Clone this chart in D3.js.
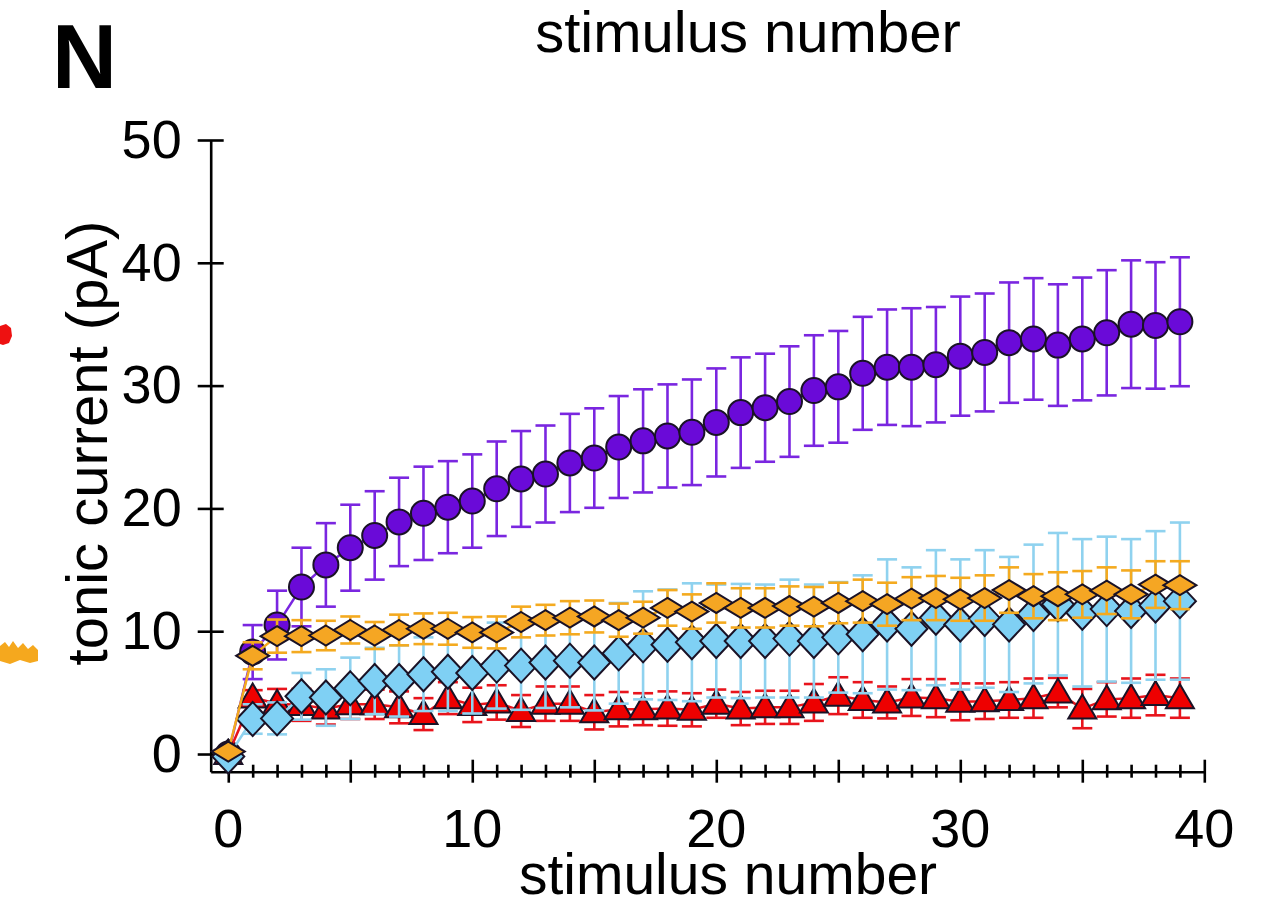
<!DOCTYPE html>
<html>
<head>
<meta charset="utf-8">
<script src="https://cdn.jsdelivr.net/npm/d3@7"></script>
<style>
  body { margin: 0; background: #fff; }
  text { font-family: "Liberation Sans", Arial, sans-serif; fill: #000; }
</style>
</head>
<body>
<svg id="chart"></svg>
<script>
// stimulus numbers 0..39
const stim = d3.range(40);

// mean tonic current (pA) and error, per group
const purpleMean = [0, 8.3, 10.5, 13.6, 15.4, 16.8, 17.8, 18.9, 19.6, 20.1, 20.6, 21.6, 22.4, 22.8, 23.7, 24.1, 25.0, 25.5, 25.9, 26.2,
  27.0, 27.8, 28.2, 28.7, 29.6, 29.9, 31.0, 31.5, 31.5, 31.7, 32.4, 32.7, 33.5, 33.8, 33.3, 33.8, 34.3, 35.0, 34.9, 35.2];
const purpleErr = [0, 2.2, 2.8, 3.2, 3.4, 3.5, 3.6, 3.6, 3.8, 3.75, 3.8, 3.85, 3.9, 3.95, 4.0, 4.05, 4.15, 4.2, 4.2, 4.3,
  4.4, 4.5, 4.4, 4.5, 4.5, 4.55, 4.6, 4.7, 4.8, 4.7, 4.85, 4.8, 4.9, 4.95, 4.95, 5.0, 5.1, 5.2, 5.15, 5.25];

const orangeMean = [0.2, 8.0, 9.6, 9.6, 9.65, 10.1, 9.65, 10.1, 10.2, 10.2, 9.9, 9.9, 10.75, 10.9, 11.1, 11.2, 10.9, 11.1, 11.9, 11.6,
  12.3, 11.9, 11.9, 12.05, 12.0, 12.3, 12.45, 12.2, 12.65, 12.7, 12.6, 12.7, 13.35, 12.85, 12.85, 13.0, 13.3, 13.0, 13.8, 13.75];
const orangeErr = [0, 1.1, 1.35, 1.3, 1.2, 1.1, 1.1, 1.25, 1.25, 1.3, 1.25, 1.3, 1.25, 1.25, 1.35, 1.3, 1.35, 1.3, 1.45, 1.4,
  1.6, 1.6, 1.6, 1.6, 1.6, 1.65, 1.75, 1.75, 1.75, 1.8, 1.75, 1.85, 1.85, 1.8, 1.95, 1.9, 1.9, 1.95, 1.9, 1.95];

const blueMean = [-0.2, 2.85, 2.9, 4.7, 4.6, 5.35, 5.95, 5.95, 6.5, 6.7, 6.6, 7.2, 7.2, 7.45, 7.6, 7.45, 8.2, 8.85, 8.9, 9.1,
  9.2, 9.2, 9.2, 9.4, 9.2, 9.5, 9.75, 10.55, 10.2, 11.1, 10.55, 11.0, 10.55, 11.4, 12.2, 11.5, 11.8, 11.65, 12.1, 12.45];
const blueErr = [0, 1.2, 1.3, 1.9, 2.3, 2.5, 2.7, 2.9, 3.0, 3.2, 3.3, 3.5, 3.6, 3.7, 3.8, 3.9, 4.1, 4.4, 4.5, 4.8,
  4.6, 4.65, 4.6, 4.8, 4.6, 4.5, 4.8, 5.3, 5.0, 5.5, 5.3, 5.6, 5.5, 5.65, 5.8, 6.0, 5.9, 5.85, 6.05, 6.4];

const redMean = [0, 4.6, 4.1, 4.0, 3.7, 4.05, 4.05, 3.8, 3.25, 4.55, 4.0, 4.2, 3.5, 4.1, 4.1, 3.4, 3.65, 3.65, 3.7, 3.6,
  4.1, 3.7, 3.8, 3.8, 4.2, 4.75, 4.4, 4.2, 4.6, 4.55, 4.25, 4.3, 4.4, 4.55, 5.0, 3.7, 4.45, 4.55, 4.8, 4.55];
const redErr = [0, 0.6, 1.2, 1.3, 1.3, 1.2, 1.2, 1.3, 1.3, 1.3, 1.4, 1.4, 1.3, 1.4, 1.4, 1.4, 1.4, 1.3, 1.4, 1.35,
  1.15, 1.35, 1.35, 1.35, 1.5, 1.5, 1.45, 1.3, 1.5, 1.55, 1.5, 1.45, 1.45, 1.6, 1.2, 1.6, 1.4, 1.6, 1.65, 1.6];

const yTicks = [0, 10, 20, 30, 40, 50];
const xLabels = [0, 10, 20, 30, 40];

const width = 1265;
const height = 906;

const svg = d3.select("#chart")
    .attr("width", width)
    .attr("height", height);

const x = d3.scaleLinear().domain([-0.72, 40]).range([210.7, 1204.3]);
const y = d3.scaleLinear().domain([-1.44, 50]).range([771.7, 140]);

// panel letter and titles
svg.append("text")
    .attr("x", 52).attr("y", 88)
    .style("font-size", "90px").style("font-weight", "bold")
    .text("N");

svg.append("text")
    .attr("x", 748).attr("y", 52)
    .attr("text-anchor", "middle")
    .style("font-size", "58px")
    .text("stimulus number");

svg.append("text")
    .attr("x", 728).attr("y", 894)
    .attr("text-anchor", "middle")
    .style("font-size", "57px")
    .text("stimulus number");

svg.append("text")
    .attr("transform", "translate(107,443) rotate(-90)")
    .attr("text-anchor", "middle")
    .style("font-size", "58px")
    .text("tonic current (pA)");

// bits of neighbouring panel at the left edge
svg.append("path")
    .attr("d", "M0,326 L6,324 L11,328 L12,336 L9,343 L3,345 L0,344 Z")
    .attr("fill", "#ee1111");
svg.append("path")
    .attr("d", "M0,646 L5,642 L9,647 L13,641 L18,648 L23,643 L28,649 L33,645 L38,650 L38,661 L30,663 L20,660 L10,664 L0,661 Z")
    .attr("fill", "#f5a81e");

// axes
const yAxis = svg.append("g")
    .attr("transform", `translate(${x(-0.72)},0)`)
    .call(d3.axisLeft(y).tickValues(yTicks).tickSize(13).tickSizeOuter(0).tickPadding(16));
yAxis.selectAll(".tick line").attr("x1", 13);
yAxis.selectAll("text").style("font-size", "54px");

const xAxis = svg.append("g")
    .attr("transform", `translate(0,${y(-1.44)})`)
    .call(d3.axisBottom(x).tickValues(d3.range(0, 41)).tickSizeOuter(0).tickFormat(""));
xAxis.selectAll(".tick line")
    .attr("y1", d => d % 5 === 0 ? -12 : -7)
    .attr("y2", d => d % 5 === 0 ? 11 : 6);

svg.selectAll(".domain, .tick line")
    .attr("stroke", "#000")
    .attr("stroke-width", 2.6);

svg.append("g")
  .selectAll("text")
  .data(xLabels)
  .enter().append("text")
    .attr("x", d => x(d))
    .attr("y", 847)
    .attr("text-anchor", "middle")
    .style("font-size", "54px")
    .text(d => d);

// marker shapes
const diamond = (w, h) => `M0,${-h / 2}L${w / 2},0L0,${h / 2}L${-w / 2},0Z`;
const triangle = "M0,-14L14,10L-14,10Z";
const circle = "M-12.5,0A12.5,12.5 0 1,0 12.5,0A12.5,12.5 0 1,0 -12.5,0Z";

// drawing order: purple at the back, orange on top
const series = [
  { mean: purpleMean, err: purpleErr, fill: "#6a0ad8", bar: "#7a26e0", shape: circle },
  { mean: redMean, err: redErr, fill: "#ee0000", bar: "#e8141c", shape: triangle },
  { mean: blueMean, err: blueErr, fill: "#7fd0f4", bar: "#8fd2ef", shape: diamond(32, 34) },
  { mean: orangeMean, err: orangeErr, fill: "#f5a623", bar: "#f4aa1f", shape: diamond(33, 20) }
];

const line = d3.line()
    .x(d => x(d.i))
    .y(d => y(d.m));

series.forEach(s => {
  const pts = stim.map((i, k) => ({ i: i, m: s.mean[k], e: s.err[k] }));
  const g = svg.append("g");

  g.append("path")
      .datum(pts)
      .attr("d", line)
      .attr("fill", "none")
      .attr("stroke", s.bar)
      .attr("stroke-width", 2.5);

  const bars = g.selectAll(".err")
      .data(pts.filter(d => d.e > 0))
    .enter().append("g")
      .attr("stroke", s.bar)
      .attr("stroke-width", 2.6);
  bars.append("line")
      .attr("x1", d => x(d.i)).attr("x2", d => x(d.i))
      .attr("y1", d => y(d.m - d.e)).attr("y2", d => y(d.m + d.e));
  bars.append("line")
      .attr("x1", d => x(d.i) - 10).attr("x2", d => x(d.i) + 10)
      .attr("y1", d => y(d.m + d.e)).attr("y2", d => y(d.m + d.e));
  bars.append("line")
      .attr("x1", d => x(d.i) - 10).attr("x2", d => x(d.i) + 10)
      .attr("y1", d => y(d.m - d.e)).attr("y2", d => y(d.m - d.e));

  g.selectAll(".marker")
      .data(pts)
    .enter().append("path")
      .attr("transform", d => `translate(${x(d.i)},${y(d.m)})`)
      .attr("d", s.shape)
      .attr("fill", s.fill)
      .attr("stroke", "#1a1226")
      .attr("stroke-width", 2);
});
</script>
</body>
</html>
